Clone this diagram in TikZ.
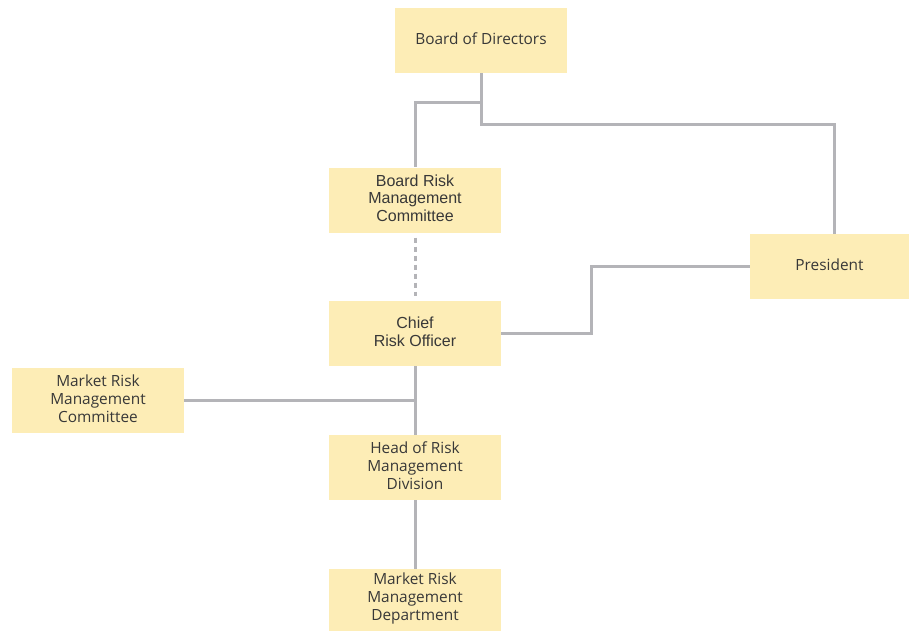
\documentclass[tikz,border=0pt]{standalone}
\usepackage{fontspec}
\setmainfont{Open Sans}
\newfontfamily\helv{Liberation Sans}
\begin{document}
\begin{tikzpicture}[x=1pt,y=-1pt,
  orgbox/.style={fill=boxfill, draw=none, minimum width=172pt, minimum height=65pt,
    inner sep=0pt},
  boxtext/.style={align=center, inner sep=0pt, yshift=1.8pt, text=textgray,
    font=\fontsize{15.4}{17.8}\selectfont},
  helvtext/.style={boxtext, font=\helv\fontsize{16}{17.8}\selectfont},
  link/.style={draw=linegray, line width=3pt},
  dotlink/.style={link, dash pattern=on 5pt off 4pt}]
\definecolor{boxfill}{HTML}{FDEDB6}
\definecolor{linegray}{HTML}{B4B4B8}
\definecolor{textgray}{HTML}{383838}
\useasboundingbox (0,0) rectangle (909,630);

% boxes, each with its caption set as a centred label
\node[orgbox, label={[boxtext]center:Board of Directors}] (bod) at (481,40.5) {};
\node[orgbox, label={[helvtext]center:{Board Risk\\Management\\Committee}}] (brmc) at (415,200) {};
\node[orgbox, minimum width=159pt, label={[boxtext]center:President}] (pres) at (829.5,266.5) {};
\node[orgbox, label={[helvtext]center:{Chief\\Risk Officer}}] (cro) at (415,333.5) {};
\node[orgbox, label={[boxtext]center:{Market Risk\\Management\\Committee}}] (mrmc) at (98,400.5) {};
\node[orgbox, label={[boxtext]center:{Head of Risk\\Management\\Division}}] (head) at (415,467.5) {};
\node[orgbox, minimum height=63pt, label={[boxtext]center:{Market Risk\\Management\\Department}}] (mrmd) at (415,600.5) {};

% reporting lines
\coordinate (split) at (481,102);
\coordinate (bend) at (591,333.5);
\draw[link] (bod.south) -- (split) -| (brmc.north);
\draw[link] (split) |- (834,124) -- (pres.north -| 834,0);
\draw[dotlink] ([yshift=-5pt]brmc.south) -- ([yshift=5pt]cro.north);
\draw[link] (cro.east) -- (bend) |- (pres.west);
\draw[link] (cro.south) -- (head.north);
\draw[link] (mrmc.east) -- (mrmc.east -| head.north);
\draw[link] (head.south) -- (mrmd.north);
\end{tikzpicture}
\end{document}
